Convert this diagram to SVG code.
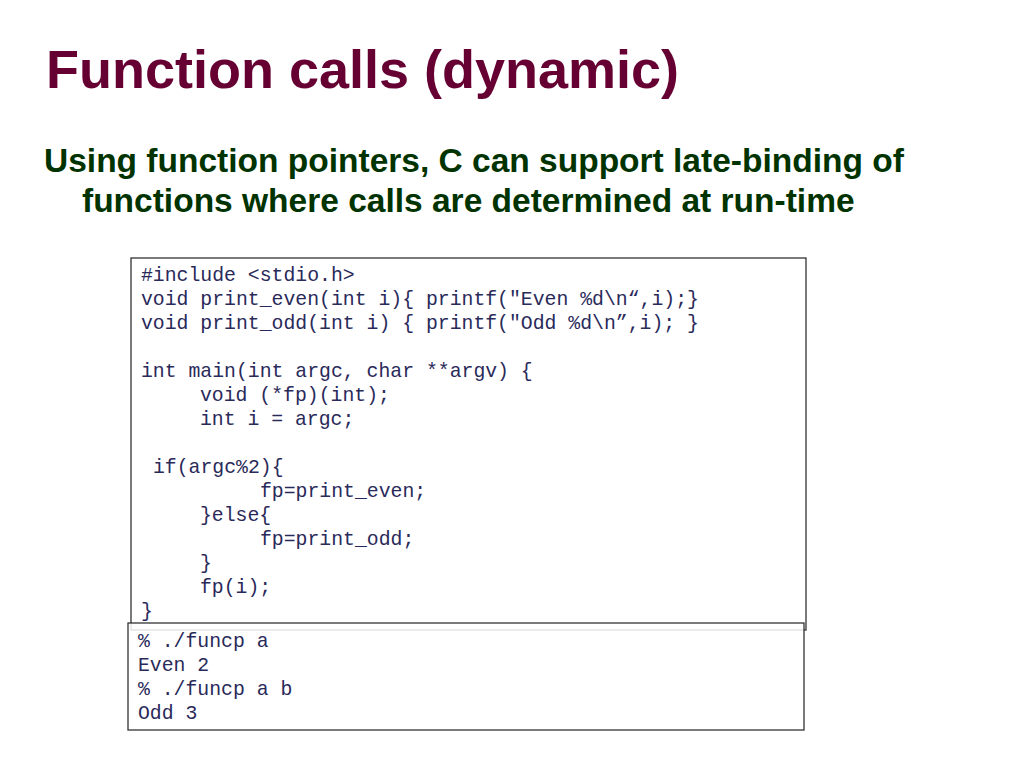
<svg xmlns="http://www.w3.org/2000/svg" width="1024" height="768" viewBox="0 0 1024 768">
<style>
.t{font-family:"Liberation Sans",Arial,sans-serif;font-weight:bold}
.c{font-family:"Liberation Mono","Courier New",monospace;font-size:19.8px;fill:#2a2a5a;white-space:pre}
.b{fill:#fff;stroke:#333;stroke-width:1.3}
</style>
<rect width="1024" height="768" fill="#fff"/>
<text class="t" x="46" y="88" font-size="54" fill="#660033">Function calls (dynamic)</text>
<text class="t" x="44" y="172" font-size="33.5" fill="#003300">Using function pointers, C can support late-binding of</text>
<text class="t" x="82" y="212" font-size="33.5" fill="#003300">functions where calls are determined at run-time</text>
<g id="code">
<rect class="b" x="131" y="258" width="675" height="372"/>
<text class="c" x="141" y="281">#include &lt;stdio.h&gt;</text>
<text class="c" x="141" y="305">void print_even(int i){ printf("Even %d\n“,i);}</text>
<text class="c" x="141" y="329">void print_odd(int i) { printf("Odd %d\n”,i); }</text>
<text class="c" x="141" y="377">int main(int argc, char **argv) {</text>
<text class="c" x="200" y="401">void (*fp)(int);</text>
<text class="c" x="200" y="425">int i = argc;</text>
<text class="c" x="153" y="473">if(argc%2){</text>
<text class="c" x="260" y="497">fp=print_even;</text>
<text class="c" x="200" y="521">}else{</text>
<text class="c" x="260" y="545">fp=print_odd;</text>
<text class="c" x="200" y="569">}</text>
<text class="c" x="200" y="593">fp(i);</text>
<text class="c" x="141" y="617">}</text>
</g>
<g id="output">
<rect class="b" x="128" y="623" width="676" height="107" fill-opacity="0.85"/>
<text class="c" x="138" y="647">% ./funcp a</text>
<text class="c" x="138" y="671">Even 2</text>
<text class="c" x="138" y="695">% ./funcp a b</text>
<text class="c" x="138" y="719">Odd 3</text>
</g>
</svg>
